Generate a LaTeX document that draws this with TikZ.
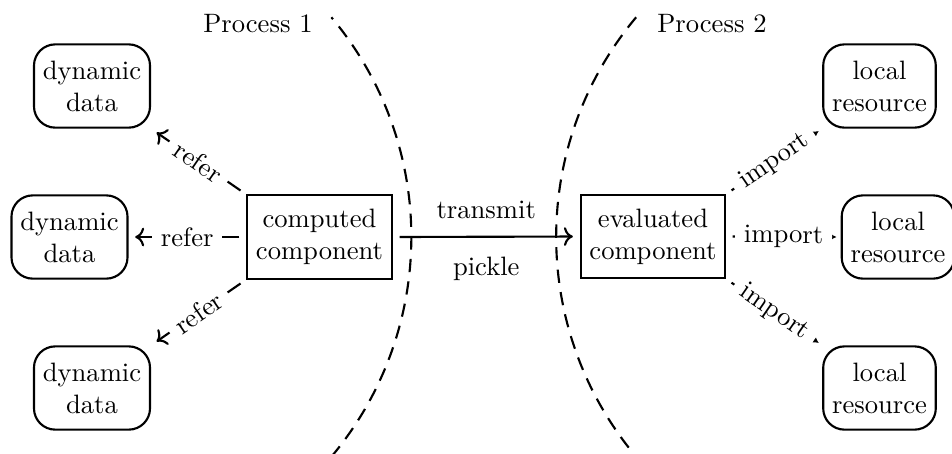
\documentclass[tikz,border=0pt]{standalone}
\usetikzlibrary{arrows.meta}

\begin{document}
\begin{tikzpicture}[
        x=0.3759pt, y=0.3759pt, % единица = пиксель рисунка
        comp/.style={draw, thick, align=center, minimum height=1.1cm}, % компоненты
        res/.style={draw, thick, rounded corners=8pt, align=center, minimum height=1.1cm}, % данные и ресурсы
        refer/.style={draw, thick, shorten >=2.5pt, shorten <=2.5pt, -{To}},
        imp/.style={draw, thick, shorten >=1.5pt, shorten <=2.3pt, -{Latex[length=2.3pt, width=2.6pt]}},
        pass/.style={draw, thick, shorten >=2.5pt, shorten <=2.5pt, -{To}},
        lbl/.style={fill=white, sloped}, % подписи на стрелках
        border/.style={thick, dash pattern=on 5pt off 3.5pt}, % граница процесса
    ]

    \useasboundingbox (0,0) rectangle (952,-453);

    \node[comp] (computed) at (319.5,-237) {computed\\component};
    \node[comp] (evaluated) at (653,-236.5) {evaluated\\component};

    \node[res] (dyn1) at (92,-86) {dynamic\\data};
    \node[res] (dyn2) at (69.5,-237) {dynamic\\data};
    \node[res] (dyn3) at (92,-388) {dynamic\\data};

    \node[res] (loc1) at (879.5,-86) {local\\resource};
    \node[res] (loc2) at (898,-237) {local\\resource};
    \node[res] (loc3) at (879.5,-388) {local\\resource};

    \node (proc1) at (258,-24) {Process 1};
    \node (proc2) at (712,-24) {Process 2};

    % границы процессов
    \draw[border] (dyn2.center) ++(-40:128.5pt) arc[start angle=-40, end angle=40, radius=128.5pt];
    \draw[border] (loc2.center) ++(140:128.5pt) arc[start angle=140, end angle=220, radius=128.5pt];

    \draw[refer] (computed.north west) -- node[lbl] {refer} (dyn1.south east);
    \draw[refer] (computed.west) -- node[lbl] {refer} (dyn2.east);
    \draw[refer] (computed.south west) -- node[lbl] {refer} (dyn3.north east);

    \draw[pass] (computed.east) -- node[above=3pt] {transmit} node[below=4pt] {pickle} (evaluated.west);

    \draw[imp] (evaluated.north east) -- node[lbl] {import} (loc1.south west);
    \draw[imp] (evaluated.east) -- node[lbl] {import} (loc2.west);
    \draw[imp] (evaluated.south east) -- node[lbl] {import} (loc3.north west);

\end{tikzpicture}
\end{document}
